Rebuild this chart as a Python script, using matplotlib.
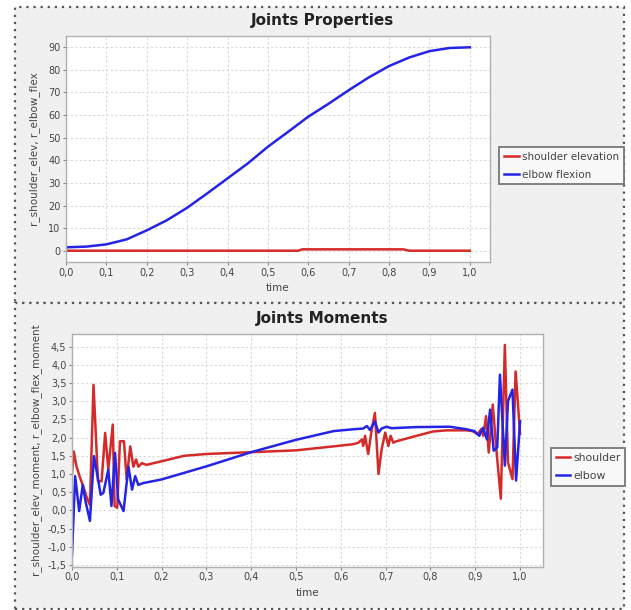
import matplotlib
matplotlib.use("Agg")
import matplotlib.pyplot as plt
from matplotlib.patches import Rectangle
from matplotlib.ticker import FuncFormatter

# ---------------- data ----------------
flex_t = [0.0, 0.05, 0.1, 0.15, 0.2, 0.25, 0.3, 0.35, 0.4, 0.45, 0.5,
          0.55, 0.6, 0.65, 0.7, 0.75, 0.8, 0.85, 0.9, 0.95, 1.0]
elbow_flexion = [1.5, 1.8, 2.8, 5.0, 9.0, 13.5, 19.0, 25.4, 32.0, 38.6, 46.0,
                 52.6, 59.3, 65.0, 71.0, 76.7, 81.7, 85.5, 88.3, 89.7, 90.0]
elev_t = [0.0, 0.3, 0.575, 0.585, 0.835, 0.85, 1.0]
shoulder_elevation = [0.0, 0.0, 0.0, 0.6, 0.6, 0.0, 0.0]

shoulder_t = [0.0, 0.004, 0.01, 0.018, 0.025, 0.033, 0.04, 0.048, 0.058, 0.066,
              0.074, 0.081, 0.091, 0.095, 0.101, 0.107, 0.116, 0.122, 0.13, 0.137,
              0.143, 0.148, 0.156, 0.166, 0.2, 0.25, 0.3, 0.4, 0.5, 0.584,
              0.628, 0.639, 0.647, 0.65, 0.654, 0.661, 0.669, 0.676, 0.684, 0.691,
              0.699, 0.706, 0.711, 0.717, 0.724, 0.769, 0.806, 0.836, 0.88, 0.894,
              0.905, 0.913, 0.918, 0.924, 0.93, 0.939, 0.947, 0.957, 0.966, 0.973,
              0.983, 0.99, 1.0]
shoulder_moment = [1.0, 1.62, 1.21, 0.9, 0.66, 0.35, 0.15, 3.45, 0.8, 0.8,
                   2.13, 1.12, 2.36, 0.12, 0.07, 1.9, 1.9, 0.85, 1.76, 1.2,
                   1.4, 1.2, 1.3, 1.25, 1.35, 1.5, 1.55, 1.6, 1.65, 1.76,
                   1.82, 1.86, 1.95, 1.77, 2.05, 1.55, 2.23, 2.68, 1.0, 1.68,
                   2.14, 1.77, 2.05, 1.86, 1.9, 2.05, 2.17, 2.2, 2.2, 2.18,
                   2.09, 2.23, 2.05, 2.59, 1.59, 2.91, 1.68, 0.32, 4.55, 1.32,
                   0.86, 3.82, 2.1]

elbow_t = [0.0, 0.007, 0.016, 0.024, 0.031, 0.04, 0.049, 0.057, 0.064, 0.07,
           0.081, 0.088, 0.096, 0.103, 0.115, 0.126, 0.134, 0.141, 0.148, 0.159,
           0.2, 0.3, 0.4, 0.5, 0.584, 0.628, 0.65, 0.658, 0.665, 0.676,
           0.684, 0.691, 0.702, 0.713, 0.769, 0.843, 0.88, 0.898, 0.909, 0.917,
           0.926, 0.933, 0.941, 0.949, 0.955, 0.966, 0.973, 0.983, 0.991, 1.0]
elbow_moment = [-1.25, 0.94, -0.02, 0.7, 0.2, -0.29, 1.49, 0.94, 0.43, 0.48,
                1.12, 0.12, 1.58, 0.3, -0.02, 1.2, 0.57, 0.94, 0.7, 0.75,
                0.85, 1.21, 1.6, 1.94, 2.18, 2.23, 2.25, 2.32, 2.21, 2.45,
                2.14, 2.25, 2.3, 2.26, 2.29, 2.3, 2.23, 2.18, 2.05, 2.27,
                1.95, 2.77, 1.64, 1.73, 3.73, 1.23, 3.0, 3.32, 0.82, 2.45]

x_ticks = [0.0, 0.1, 0.2, 0.3, 0.4, 0.5, 0.6, 0.7, 0.8, 0.9, 1.0]
top_y_ticks = [0, 10, 20, 30, 40, 50, 60, 70, 80, 90]
bot_y_ticks = [-1.5, -1.0, -0.5, 0.0, 0.5, 1.0, 1.5, 2.0, 2.5, 3.0, 3.5, 4.0, 4.5]

RED = "#d42a2a"
BLUE = "#2424e6"

plt.rcParams['font.family'] = ['DejaVu Sans']

W, H = 631, 610
fig = plt.figure(figsize=(W / 100, H / 100), dpi=100)
fig.patch.set_facecolor("white")


def fx(px):
    return px / W


def fy(py):
    return 1 - py / H


# panel backgrounds with dotted borders
for (x0, y0, x1, y1) in [(15, 7, 624, 303), (15, 303, 624, 609)]:
    fig.patches.append(Rectangle((fx(x0), fy(y1)), fx(x1) - fx(x0), fy(y0) - fy(y1),
                                 transform=fig.transFigure, facecolor="#f0f0f0",
                                 edgecolor="#555555", linestyle=(0, (1, 2.2)),
                                 linewidth=1.6, zorder=-10))

comma1 = FuncFormatter(lambda v, p: f"{v:.1f}".replace(".", ","))
intfmt = FuncFormatter(lambda v, p: f"{v:.0f}")


def style_axes(ax):
    ax.set_facecolor("white")
    for s in ax.spines.values():
        s.set_color("#b0b0b0")
        s.set_linewidth(1.0)
    ax.grid(True, color="#d8d8d8", linestyle=(0, (2, 2)), linewidth=0.8)
    ax.set_axisbelow(True)
    ax.tick_params(direction="out", length=2, width=0.8, color="#888888",
                   labelsize=7, labelcolor="#444444", pad=2)
    ax.set_xticks(x_ticks)
    ax.xaxis.set_major_formatter(comma1)
    ax.set_xlim(0, 1.05)


def style_legend(leg):
    leg.get_frame().set_edgecolor("#777777")
    leg.get_frame().set_linewidth(1.3)
    leg.get_frame().set_facecolor("#f8f8f8")
    leg.get_frame().set_alpha(1)
    for t in leg.get_texts():
        t.set_color("#444444")


# ---------------- top ----------------
ax1 = fig.add_axes([fx(66), fy(262), fx(490) - fx(66), fy(36) - fy(262)])
style_axes(ax1)
l1, = ax1.plot(elev_t, shoulder_elevation, color=RED, lw=1.8, label="shoulder elevation")
l2, = ax1.plot(flex_t, elbow_flexion, color=BLUE, lw=1.8, label="elbow flexion")
ax1.set_ylim(-5, 95)
ax1.set_yticks(top_y_ticks)
ax1.yaxis.set_major_formatter(intfmt)
ax1.set_xlabel("time", fontsize=7.5, color="#444444", labelpad=4)
ax1.set_ylabel("r_shoulder_elev, r_elbow_flex", fontsize=7.5, color="#444444", labelpad=6)
fig.text(fx(322), fy(21), "Joints Properties", ha="center", va="center",
         fontsize=11, fontweight="bold", color="#222222")
leg1 = fig.legend(handles=[l1, l2], loc="upper left",
                  bbox_to_anchor=(fx(499), fy(147)), fontsize=7.5,
                  frameon=True, fancybox=False, handlelength=1.5, handletextpad=0.3,
                  borderpad=0.45, labelspacing=0.75, borderaxespad=0)
style_legend(leg1)

# ---------------- bottom ----------------
ax2 = fig.add_axes([fx(72), fy(566.7), fx(542.5) - fx(72), fy(334) - fy(566.7)])
style_axes(ax2)
m1, = ax2.plot(shoulder_t, shoulder_moment, color=RED, lw=1.8, label="shoulder")
m2, = ax2.plot(elbow_t, elbow_moment, color=BLUE, lw=1.8, label="elbow")
ax2.set_ylim(-1.55, 4.85)
ax2.set_yticks(bot_y_ticks)
ax2.yaxis.set_major_formatter(comma1)
ax2.set_xlabel("time", fontsize=7.5, color="#444444", labelpad=4)
ax2.set_ylabel("r_shoulder_elev_moment, r_elbow_flex_moment", fontsize=7.5,
               color="#444444", labelpad=4)
fig.text(fx(322), fy(318), "Joints Moments", ha="center", va="center",
         fontsize=11, fontweight="bold", color="#222222")
leg2 = fig.legend(handles=[m1, m2], loc="upper left",
                  bbox_to_anchor=(fx(551), fy(448)), fontsize=7.8,
                  frameon=True, fancybox=False, handlelength=1.3, handletextpad=0.3,
                  borderpad=0.45, labelspacing=0.75, borderaxespad=0)
style_legend(leg2)

fig.savefig("out.png", dpi=100, facecolor=fig.get_facecolor())
